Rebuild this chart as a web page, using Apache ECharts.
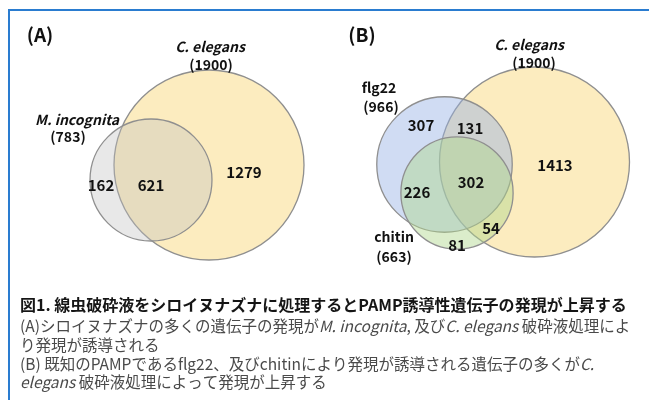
<!DOCTYPE html>
<html>
<head>
<meta charset="utf-8">
<script src="https://cdn.jsdelivr.net/npm/echarts@6/dist/echarts.min.js"></script>
<style>
html,body{margin:0;padding:0;background:#fff;}
#main{width:649px;height:400px;}
</style>
</head>
<body>
<div id="main"></div>
<script>
// ---- DATA ----
const panelA_sets = ['C. elegans', 'M. incognita'];
const panelA_totals = [1900, 783];
const panelA_regions = [162, 621, 1279];          // M.inc only, both, C.el only

const panelB_sets = ['C. elegans', 'flg22', 'chitin'];
const panelB_totals = [1900, 966, 663];
const panelB_regions = [307, 131, 1413, 302, 226, 54, 81];
// flg22 only, flg22∩C.el, C.el only, all three, flg22∩chitin, chitin∩C.el, chitin only

const captionLines = [
  '図1. 線虫破砕液をシロイヌナズナに処理するとPAMP誘導性遺伝子の発現が上昇する',
  '(A)シロイヌナズナの多くの遺伝子の発現が{i|M. incognita}, 及び{i|C. elegans} 破砕液処理によ',
  'り発現が誘導される',
  '(B) 既知のPAMPであるflg22、及びchitinにより発現が誘導される遺伝子の多くが{i|C.}',
  '{i|elegans} 破砕液処理によって発現が上昇する'
];

// ---- LAYOUT (positions / sizes / styles) ----
const RADIUS_K = 95 / Math.sqrt(1900); // area-proportional circles
const FONT = '"Noto Sans CJK JP", "Noto Sans", sans-serif';
const circleLayout = [
  {panel: 'A', set: 0, c: [209, 165], fill: 'rgba(250,222,145,0.58)'},
  {panel: 'A', set: 1, c: [151, 180], fill: 'rgba(192,192,192,0.36)'},
  {panel: 'B', set: 0, c: [534.5, 162], fill: 'rgba(250,222,145,0.58)'},
  {panel: 'B', set: 1, c: [444.5, 164.5], fill: 'rgba(150,178,228,0.45)'},
  {panel: 'B', set: 2, c: [457, 193], fill: 'rgba(175,215,140,0.45)'}
];
const regionPosA = [[101, 185], [151, 185], [244, 172]];
const regionPosB = [[421, 125], [470, 128], [555, 165], [471, 182], [417, 192], [491, 228], [457, 245]];
const setLabelPosA = [[[210, 47], [211, 65]], [[77, 120], [68, 137]]];
const setLabelPosB = [[[529, 45], [534, 63]], [[379, 88], [381, 107]], [[394, 237], [394, 257]]];
const italicSets = {'C. elegans': true, 'M. incognita': true};

// ---- BUILD ----
const circleData = circleLayout.map(l => {
  const tot = l.panel === 'A' ? panelA_totals[l.set] : panelB_totals[l.set];
  return [l.c[0], l.c[1], tot];
});

const textItems = [];
textItems.push({t: '(A)', p: [40, 35], font: 'bold 19px ' + FONT});
textItems.push({t: '(B)', p: [362, 35], font: 'bold 19px ' + FONT});
function addSetLabels(names, totals, pos) {
  names.forEach((n, i) => {
    const it = italicSets[n] ? 'italic ' : '';
    textItems.push({t: n, p: pos[i][0], font: it + 'bold 14px ' + FONT});
    textItems.push({t: '(' + totals[i] + ')', p: pos[i][1], font: 'bold 14px ' + FONT});
  });
}
addSetLabels(panelA_sets, panelA_totals, setLabelPosA);
addSetLabels(panelB_sets, panelB_totals, setLabelPosB);
panelA_regions.forEach((v, i) => textItems.push({t: String(v), p: regionPosA[i], font: 'bold 15px ' + FONT}));
panelB_regions.forEach((v, i) => textItems.push({t: String(v), p: regionPosB[i], font: 'bold 15px ' + FONT}));
const textData = textItems.map((d, i) => [d.p[0], d.p[1], i]);

const chart = echarts.init(document.getElementById('main'), null, {renderer: 'canvas'});
const captionY = [305, 326, 345, 364, 382];
const graphics = [
  {type: 'polyline', shape: {points: [[9, 400], [9, 10], [649, 10]]}, style: {stroke: '#2a7cd0', lineWidth: 2, fill: null}, z: 10}
];
captionLines.forEach((line, i) => {
  const bold = i === 0;
  graphics.push({
    type: 'text', x: 20, y: captionY[i], z: 10,
    style: {
      text: line,
      fontFamily: FONT,
      fontSize: bold ? 16 : 15.5,
      fontWeight: bold ? 'bold' : 'normal',
      fill: bold ? '#151515' : '#4a4a4a',
      textVerticalAlign: 'middle',
      verticalAlign: 'middle',
      rich: {
        i: {fontStyle: 'italic', fontFamily: FONT, fontSize: 15.5, fill: '#4a4a4a'}
      }
    }
  });
});

chart.setOption({
  animation: false,
  backgroundColor: '#ffffff',
  grid: {left: 0, right: 0, top: 0, bottom: 0},
  xAxis: {type: 'value', min: 0, max: 649, show: false},
  yAxis: {type: 'value', min: 0, max: 400, inverse: true, show: false},
  graphic: graphics,
  series: [
    {
      type: 'custom',
      clip: false,
      data: circleData,
      renderItem: function (params, api) {
        const c = api.coord([api.value(0), api.value(1)]);
        const r = api.size([RADIUS_K * Math.sqrt(api.value(2)), 0])[0];
        return {
          type: 'circle',
          shape: {cx: c[0], cy: c[1], r: r},
          style: {fill: circleLayout[params.dataIndex].fill, stroke: '#8f8f8f', lineWidth: 1.3}
        };
      }
    },
    {
      type: 'custom',
      clip: false,
      z: 5,
      data: textData,
      renderItem: function (params, api) {
        const c = api.coord([api.value(0), api.value(1)]);
        const d = textItems[api.value(2)];
        return {
          type: 'text',
          x: c[0], y: c[1],
          style: {text: d.t, font: d.font, fill: '#111', textAlign: 'center', textVerticalAlign: 'middle', align: 'center', verticalAlign: 'middle'}
        };
      }
    }
  ]
});
</script>
</body>
</html>
